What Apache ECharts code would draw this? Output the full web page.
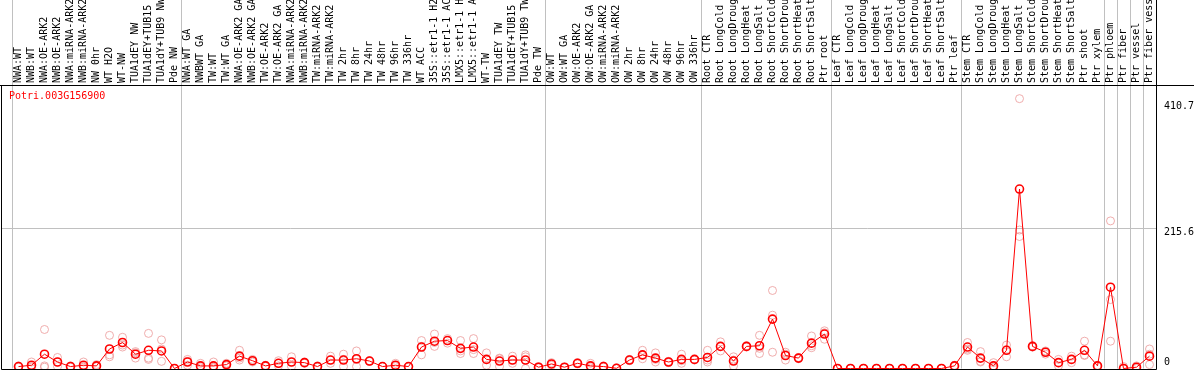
<!DOCTYPE html>
<html><head><meta charset="utf-8">
<script src="https://cdn.jsdelivr.net/npm/echarts@6/dist/echarts.min.js"></script>
<style>html,body{margin:0;padding:0;background:#fff}#c{width:1194px;height:370px}</style>
</head><body><div id="c"></div>
<script>
const geneId = 'Potri.003G156900';
const categories = [
 'NWA:WT','NWB:WT','NWA:OE-ARK2','NWB:OE-ARK2','NWA:miRNA-ARK2','NWB:miRNA-ARK2','NW 0hr','WT H2O','WT-NW','TUA1dEY NW','TUA1dEY+TUB15','TUA1dY+TUB9 NW','Pde NW',
 'NWA:WT GA','NWBWT GA','TW:WT','TW:WT GA','NWA:OE-ARK2 GA','NWB:OE-ARK2 GA','TW:OE-ARK2','TW:OE-ARK2 GA','NWA:miRNA-ARK2','NWB:miRNA-ARK2','TW:miRNA-ARK2','TW:miRNA-ARK2','TW 2hr','TW 8hr','TW 24hr','TW 48hr','TW 96hr','TW 336hr','WT ACC','35S::etr1-1 H2','35S::etr1-1 AC','LMX5::etr1-1 H','LMX5::etr1-1 A','WT-TW','TUA1dEY TW','TUA1dEY+TUB15','TUA1dY+TUB9 TW','Pde TW',
 'OW:WT','OW:WT GA','OW:OE-ARK2','OW:OE-ARK2 GA','OW:miRNA-ARK2','OW:miRNA-ARK2','OW 2hr','OW 8hr','OW 24hr','OW 48hr','OW 96hr','OW 336hr',
 'Root CTR','Root LongCold','Root LongDroug','Root LongHeat','Root LongSalt','Root ShortCold','Root ShortDrou','Root ShortHeat','Root ShortSalt','Ptr root',
 'Leaf CTR','Leaf LongCold','Leaf LongDroug','Leaf LongHeat','Leaf LongSalt','Leaf ShortCold','Leaf ShortDrou','Leaf ShortHeat','Leaf ShortSalt','Ptr leaf',
 'Stem CTR','Stem LongCold','Stem LongDroug','Stem LongHeat','Stem LongSalt','Stem ShortCold','Stem ShortDrou','Stem ShortHeat','Stem ShortSalt','Ptr shoot','Ptr xylem',
 'Ptr phloem','Ptr fiber','Ptr vessel','Ptr fiber vess'
];
// mean expression (dark red circles, connected)
const means = [
 3,5,22,10,3,5,4,30,40,22,28,27,0,
 10,4,4,6,19,12,4,8,10,9,3,13,13,15,11.5,3,5,3,33,42,43,31,33,14,11.5,13,13,2,
 7,2,8,4,3,0.3,13,21,16,10,14,14,
 17,34,11.5,34,35,76,20,16,39,53,
 0,0,0,0,0,0,0,0,0,4,
 33,16,4,28,276,34,25,9,14,28,4,
 125,0,2,19
];
// replicate values (light circles)
const rep1 = [
 3,10,60,17,3,10,6,51,48,26,54,44,0,
 14,8,10,8,28,12,4,12,18,9,3,19,22,27,12,3,8,3,43,53,46,43,46,24,16,19,21,2,
 9,2,8,8,3,0,13,28,24,10,22,14,
 28,41,18,35,51,120,25,16,50,58,
 0,0,0,0,0,0,0,0,0,5,
 40,26,9,36,415,35,27,14,19,42,4,
 227,3,4,30
];
const rep2 = [
 4,3,4,10,4,3,3,18,33,16,16,30,0,
 11,3,2,6,16,14,5,8,10,8,2,13,14,14,11,3,5,2,34,40,43,27,29,14,15,13,18,1,
 7,2,9,3,2,1,12,20,14,9,12,14,
 13,34,13,34,31,82,22,15,35,55,
 0,0,0,0,0,0,0,0,0,4,
 30,11,2,29,213,33,26,9,14,21,3,
 106,0,2,22
];
const rep3 = [
 2,2,2,3,2,2,3,21,36,24,14,11,0,
 5,1,1,4,13,10,3,4,3,10,4,8,3,3,11,3,3,3,21,34,39,23,23,5,3,8,0,3,
 5,1,7,1,4,0,14,15,10,11,8,13,
 10,27,4,33,23,25,13,17,32,45,
 0,0,0,0,0,0,0,0,0,3,
 28,10,1,18,203,33,22,4,9,20,5,
 42,0,0,6
];
const groupStarts = [0, 13, 41, 53, 63, 73, 84, 85, 86, 87];
const yTickLabels = [0, 215.6, 410.7];
const refLine = 215.6;

const FONT = 'DejaVu Sans Mono';
const reps = [];
[rep1, rep2, rep3].forEach(r => r.forEach((v, i) => reps.push([i, v])));
const isGroupStart = (idx) => groupStarts.indexOf(idx) >= 0;
const NONE = 'rgba(0,0,0,0)';

const chart = echarts.init(document.getElementById('c'), null, {renderer: 'canvas'});
chart.setOption({
  animation: false,
  backgroundColor: '#fff',
  title: {
    text: geneId, left: 9, top: 91, padding: 0,
    textStyle: {fontFamily: FONT, fontSize: 10, fontWeight: 'normal', color: '#ff0000'}
  },
  grid: [
    {left: 12, width: 1144, top: 0, height: 85, outerBoundsMode: 'none', containLabel: false},
    {left: 12, width: 1144, top: 85, height: 283.5, outerBoundsMode: 'none', containLabel: false},
    {left: 1.5, width: 1155, top: 85.5, height: 284, show: true, borderColor: '#000', borderWidth: 1,
     backgroundColor: 'transparent', z: 5, outerBoundsMode: 'none', containLabel: false}
  ],
  xAxis: [
    {gridIndex: 0, type: 'category', data: categories, boundaryGap: true,
     axisLine: {show: false}, axisTick: {show: false}, axisLabel: {show: false},
     splitLine: {show: true, interval: (i) => isGroupStart(i), lineStyle: {color: '#c0c0c0', width: 1}}},
    {gridIndex: 1, type: 'category', data: categories, boundaryGap: true, position: 'top',
     axisLine: {show: false}, axisTick: {show: false},
     axisLabel: {interval: 0, rotate: 90, margin: 2, fontFamily: FONT, fontSize: 10, color: '#000'},
     splitLine: {show: true, interval: (i) => isGroupStart(i), lineStyle: {color: '#c0c0c0', width: 1}}},
    {gridIndex: 2, type: 'value', show: false}
  ],
  yAxis: [
    {gridIndex: 0, type: 'value', show: false},
    {gridIndex: 1, type: 'value', min: 0, max: 436, position: 'right',
     axisLine: {show: false}, axisTick: {show: false}, splitLine: {show: false},
     axisLabel: {
       customValues: yTickLabels, margin: 8, align: 'left',
       formatter: (v) => (v === 0 ? '{z|0}' : '{n|' + v + '}'),
       rich: {
         z: {fontFamily: FONT, fontSize: 10, color: '#000', padding: [0, 0, 13, 0]},
         n: {fontFamily: FONT, fontSize: 10, color: '#000', padding: [9, 0, 0, 0]}
       }
     }},
    {gridIndex: 2, type: 'value', min: 0, max: 433.65, interval: refLine, position: 'right',
     axisLine: {show: false}, axisTick: {show: false}, axisLabel: {show: false},
     splitLine: {show: true, lineStyle: {width: 1, type: 'solid',
       color: [NONE, '#c0c0c0', NONE, NONE, NONE]}}}
  ],
  graphic: [
    {type: 'line', z: 100, silent: true, shape: {x1: 0, y1: 85.5, x2: 1194, y2: 85.5}, style: {stroke: '#000', lineWidth: 1}},
    {type: 'line', z: 100, silent: true, shape: {x1: 1156.5, y1: 0, x2: 1156.5, y2: 85.5}, style: {stroke: '#000', lineWidth: 1}}
  ],
  series: [
    {type: 'scatter', xAxisIndex: 1, yAxisIndex: 1, data: reps, symbol: 'circle', symbolSize: 8,
     itemStyle: {color: NONE, borderColor: '#ec9a9a', borderWidth: 1},
     emphasis: {disabled: true}, silent: true, z: 2, clip: false},
    {type: 'line', xAxisIndex: 1, yAxisIndex: 1, data: means, symbol: 'circle', symbolSize: 8,
     showSymbol: true, showAllSymbol: true,
     itemStyle: {color: NONE, borderColor: '#ff0000', borderWidth: 1.6},
     lineStyle: {color: '#ff0000', width: 1},
     emphasis: {disabled: true}, silent: true, z: 3, clip: false}
  ]
});
</script>
</body></html>
